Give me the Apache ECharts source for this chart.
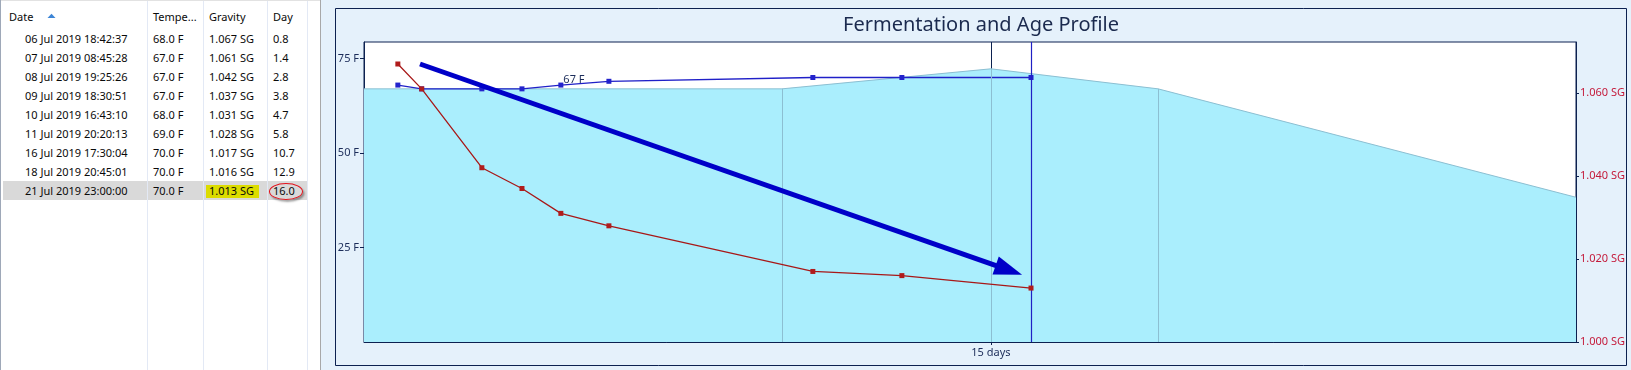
<!DOCTYPE html>
<html><head><meta charset="utf-8">
<script src="https://cdn.jsdelivr.net/npm/echarts@6/dist/echarts.min.js"></script>
<style>
html,body{margin:0;padding:0;width:1631px;height:370px;overflow:hidden;background:#fff;font-family:"Noto Sans","Open Sans",sans-serif;}
#table{position:absolute;left:0;top:0;width:320px;height:370px;background:#fff;border-left:1px solid #9ea8b8;box-sizing:border-box;}
.t{position:absolute;font-size:11px;color:#0a0a0a;white-space:nowrap;line-height:19px;height:19px;}
.vsep{position:absolute;top:0;width:1px;height:370px;background:#e3e9f5;}
#chart{position:absolute;left:320px;top:0;width:1311px;height:370px;}
</style></head>
<body>
<div id="table"></div>
<div id="chart"></div>
<script>
// ---- data ----
const headers = ["Date", "Tempe...", "Gravity", "Day"];
const dates = ["06 Jul 2019 18:42:37","07 Jul 2019 08:45:28","08 Jul 2019 19:25:26","09 Jul 2019 18:30:51","10 Jul 2019 16:43:10","11 Jul 2019 20:20:13","16 Jul 2019 17:30:04","18 Jul 2019 20:45:01","21 Jul 2019 23:00:00"];
const temps = [68, 67, 67, 67, 68, 69, 70, 70, 70];
const gravity = [1.067, 1.061, 1.042, 1.037, 1.031, 1.028, 1.017, 1.016, 1.013];
const dayLabels = ["0.8", "1.4", "2.8", "3.8", "4.7", "5.8", "10.7", "12.9", "16.0"];
const elapsed = [0.81, 1.38, 2.82, 3.78, 4.71, 5.86, 10.74, 12.87, 15.96];
const profileDays = [0, 10, 15, 19, 29];
const profileTemps = [67, 67, 72.3, 67, 38.3];
const tempTicks = [25, 50, 75];
const sgTicks = [1.000, 1.020, 1.040, 1.060];
const xTicks = [15];
const noteText = "67 F";
const arrowFrom = [1.34, 1.0670];
const arrowTo = [15.43, 1.0173];

// ---- table (HTML) ----
const tbl = document.getElementById('table');
const colX = [25, 153, 209, 273];
const headX = [9, 153, 209, 273];
const rowTop0 = 29.2, rowH = 19;
function add(html){ tbl.insertAdjacentHTML('beforeend', html); }
const sel = dates.length - 1;
add(`<div style="position:absolute;left:2px;top:${rowTop0+sel*rowH}px;width:304px;height:19px;background:#d9d9d9"></div>`);
add(`<div style="position:absolute;left:205px;top:${rowTop0+sel*rowH+3.5}px;width:53px;height:13px;background:#dcdc00"></div>`);
[146, 202, 266, 306].forEach(x => add(`<div class="vsep" style="left:${x}px"></div>`));
add(`<div style="position:absolute;left:0;top:0;width:320px;height:1px;background:#e2e2e2"></div>`);
headers.forEach((h,i) => add(`<div class="t" style="left:${headX[i]-1}px;top:7px">${h}</div>`));
add(`<svg style="position:absolute;left:46px;top:13px" width="9" height="6"><polygon points="0.5,5 4.5,0.8 8.5,5" fill="#3d85d6"/></svg>`);
dates.forEach((d,i) => {
  const top = rowTop0 + i*rowH - 0.5;
  add(`<div class="t" style="left:${colX[0]-1}px;top:${top}px">${d}</div>`);
  add(`<div class="t" style="left:${colX[1]-1}px;top:${top}px">${temps[i].toFixed(1)} F</div>`);
  add(`<div class="t" style="left:${colX[2]-1}px;top:${top}px">${gravity[i].toFixed(3)} SG</div>`);
  add(`<div class="t" style="left:${colX[3]-1}px;top:${top}px">${dayLabels[i]}</div>`);
});
add(`<div style="position:absolute;left:268px;top:${rowTop0+sel*rowH+1.5}px;width:34px;height:17px;border:1.5px solid #e3101a;border-radius:50%;box-sizing:border-box;box-shadow:1.5px 2px 2px rgba(0,0,0,0.35)"></div>`);

// ---- chart ----
const NAVY = '#0c2150';
const chart = echarts.init(document.getElementById('chart'));
const xy = (xs, ys) => xs.map((x,i) => [x, ys[i]]);
const tempData = xy(elapsed, temps).map((p,i) => i === 4 ? {
  value: p,
  label: {show: true, formatter: noteText, position: [5, -3], align: 'left', verticalAlign: 'middle',
          color: '#1c2d5a', fontSize: 11, fontFamily: 'Noto Sans'}
} : p);

chart.setOption({
  animation: false,
  backgroundColor: '#e5f1fb',
  title: {
    text: 'Fermentation and Age Profile', left: 661, top: 15, textAlign: 'center', padding: 0,
    textStyle: {fontSize: 20, fontWeight: 'normal', color: '#1b2a4e', fontFamily: 'Noto Sans'}
  },
  graphic: [
    {type: 'rect', shape: {x: 0, y: 0, width: 1, height: 370}, style: {fill: '#a8a8a8'}, silent: true},
    {type: 'rect', shape: {x: 15.5, y: 8.5, width: 1291, height: 357}, style: {fill: null, stroke: NAVY, lineWidth: 1}, silent: true}
  ],
  grid: {left: 44, right: 55, top: 42, bottom: 28, show: true, backgroundColor: '#ffffff', borderColor: NAVY, borderWidth: 1},
  xAxis: {
    type: 'value', min: 0, max: 29, interval: 15,
    axisLine: {show: true, lineStyle: {color: NAVY, width: 1}},
    axisTick: {show: true, customValues: xTicks, length: 3, lineStyle: {color: NAVY}},
    axisLabel: {customValues: xTicks, formatter: v => v + ' days', color: '#1c2d5a', fontSize: 11, margin: 5, fontFamily: 'Noto Sans'},
    splitLine: {show: true, lineStyle: {color: NAVY, width: 1}}
  },
  yAxis: [
    {
      type: 'value', position: 'left', min: 0, max: 79.4, interval: 25,
      axisLine: {show: true, lineStyle: {color: NAVY}},
      axisTick: {show: true, customValues: tempTicks, length: 4, lineStyle: {color: NAVY}},
      axisLabel: {customValues: tempTicks, formatter: v => v + ' F', color: '#1c2d5a', fontSize: 11, margin: 5, fontFamily: 'Noto Sans'},
      splitLine: {show: false}
    },
    {
      type: 'value', position: 'right', min: 1.000, max: 1.0723, interval: 0.02,
      axisLine: {show: true, lineStyle: {color: NAVY}},
      axisTick: {show: true, customValues: sgTicks, length: 3, lineStyle: {color: NAVY}},
      axisLabel: {customValues: sgTicks, formatter: v => v.toFixed(3) + ' SG', color: '#c41a3a', fontSize: 11, margin: 4, fontFamily: 'Noto Sans'},
      splitLine: {show: false}
    }
  ],
  series: [
    {
      name: 'Profile', type: 'line', yAxisIndex: 0, z: 2, silent: true,
      data: xy(profileDays, profileTemps), symbol: 'none',
      lineStyle: {color: '#8cbfd2', width: 1},
      areaStyle: {color: '#aaeefd', opacity: 1},
      markLine: {
        silent: true, symbol: 'none', label: {show: false},
        lineStyle: {color: '#8cbfd2', width: 1, type: 'solid'},
        data: [1, 2, 3].map(i => [{coord: [profileDays[i], 0]}, {coord: [profileDays[i], profileTemps[i]]}])
      }
    },
    {
      name: 'Temperature', type: 'line', yAxisIndex: 0, z: 4,
      data: tempData, symbol: 'rect', symbolSize: 5,
      itemStyle: {color: '#2323cc'}, lineStyle: {color: '#2020c8', width: 1.3},
      markLine: {
        silent: true, symbol: 'none', label: {show: false},
        lineStyle: {color: '#2020c4', width: 1.2, type: 'solid'},
        data: [{xAxis: elapsed[elapsed.length - 1]}]
      }
    },
    {
      name: 'Gravity', type: 'line', yAxisIndex: 1, z: 5,
      data: xy(elapsed, gravity), symbol: 'rect', symbolSize: 5,
      itemStyle: {color: '#b01c1c'}, lineStyle: {color: '#a81818', width: 1.3},
      markLine: {
        silent: true, label: {show: false}, symbol: ['none', 'triangle'], symbolSize: [19, 28],
        lineStyle: {color: '#0000c8', width: 5, type: 'solid'},
        itemStyle: {color: '#0000c8'},
        data: [[{coord: arrowFrom}, {coord: arrowTo}]]
      }
    }
  ]
});
</script>
</body></html>
